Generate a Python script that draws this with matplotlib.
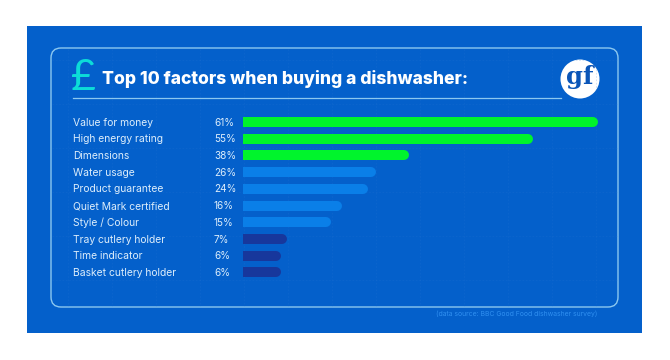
import matplotlib
matplotlib.use("Agg")
import matplotlib.pyplot as plt
from matplotlib.patches import Circle, FancyBboxPatch, Rectangle

factors = ["Value for money", "High energy rating", "Dimensions", "Water usage", "Product guarantee",
           "Quiet Mark certified", "Style / Colour", "Tray cutlery holder", "Time indicator", "Basket cutlery holder"]
percent_labels = [61, 55, 38, 26, 24, 16, 15, 7, 6, 6]
# the printed bars are not proportional to their labels, so lengths are read off separately
drawn_lengths = [61, 49.8, 28.5, 22.8, 21.5, 17, 15.1, 7.6, 6.6, 6.6]
bar_groups = ["top", "top", "top", "mid", "mid", "mid", "mid", "low", "low", "low"]

title = "Top 10 factors when buying a dishwasher:"
source = "(data source: BBC Good Food dishwasher survey)"

BLUE = "#0460cb"
LINE = "#8cc8f0"
TEXT = "#dcedfb"
group_colors = {"top": "#00f42c", "mid": "#0a7fe8", "low": "#17379c"}

W, H = 670, 360
plt.rcParams["font.family"] = ["Inter", "DejaVu Sans"]

fig = plt.figure(figsize=(W / 100, H / 100), dpi=100, facecolor="white")

# backdrop axes in pixel coordinates
bg = fig.add_axes([0, 0, 1, 1])
bg.set_xlim(0, W)
bg.set_ylim(H, 0)
bg.axis("off")
bg.add_patch(Rectangle((27, 26), 615, 307, fc=BLUE, ec="none"))

# faint dashed grid inside the panel
for gx in range(68, 618, 44):
    bg.plot([gx, gx], [49, 306], color="#2a78d4", lw=0.4, ls=(0, (3, 3)), alpha=0.35)
for gy in range(60, 306, 44):
    bg.plot([52, 617], [gy, gy], color="#2a78d4", lw=0.4, ls=(0, (3, 3)), alpha=0.35)

bg.add_patch(FancyBboxPatch((51, 48), 567, 259, boxstyle="round,pad=0,rounding_size=10",
                            fc="none", ec=LINE, lw=1.0))
bg.plot([73, 561], [98, 98], color=LINE, lw=0.9)

bg.text(83, 78, "£", color="#0cdcd8", fontsize=31, fontfamily="Lato", fontweight="normal", ha="center", va="center")
bg.text(102, 79.5, title, color="white", fontsize=12.62, fontweight="heavy", ha="left", va="center")

bg.add_patch(Circle((580, 79), 19.5, fc="white", ec="none"))
bg.text(579.5, 77, "gf", color="#0a55b8", fontsize=17.5, fontfamily="DejaVu Serif", fontweight="bold",
        ha="center", va="center")

bg.text(597, 314, source, color="#2f8ff0", fontsize=4.95, ha="right", va="center")

# bar axes: one row per factor, x in percent
row_h = 16.72
left, right = 243, 598
top = 122 - row_h / 2
ax = fig.add_axes([left / W, 1 - (top + row_h * 10) / H, (right - left) / W, row_h * 10 / H])
ax.set_xlim(0, 61)
ax.set_ylim(9.5, -0.5)
ax.axis("off")
ax.patch.set_alpha(0)

bar_px = 10
cap = (bar_px / 2) * 61 / (right - left)
for i, (name, pct, length, group) in enumerate(zip(factors, percent_labels, drawn_lengths, bar_groups)):
    # round cap on the right, the left cap gets clipped off at the axes edge
    ax.plot([0, length - cap], [i, i], color=group_colors[group], lw=bar_px * 0.72, solid_capstyle="round")
    y = top + row_h * (i + 0.5) + 0.6
    bg.text(73, y, name, color=TEXT, fontsize=7.45, ha="left", va="center")
    bg.text(214, y, f"{pct}%", color=TEXT, fontsize=7.2, ha="left", va="center")

fig.savefig("out.png", dpi=100, facecolor="white")
